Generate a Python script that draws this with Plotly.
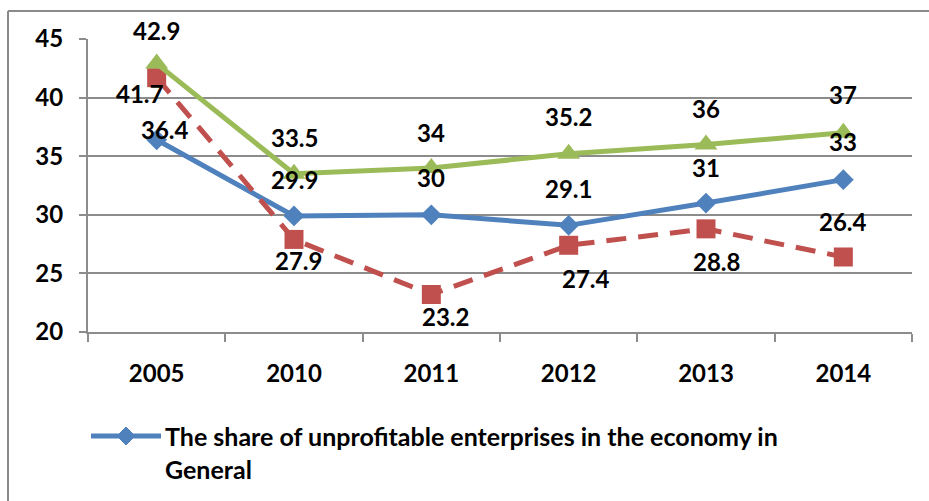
import plotly.graph_objects as go

# ---- data ----
years = ["2005", "2010", "2011", "2012", "2013", "2014"]
share_economy = [36.4, 29.9, 30, 29.1, 31, 33]
series_red = [41.7, 27.9, 23.2, 27.4, 28.8, 26.4]
series_green = [42.9, 33.5, 34, 35.2, 36, 37]
legend_text = "The share of unprofitable enterprises in the economy in<br>General"

# ---- styling ----
W, H = 929, 501
FONT = dict(family="Lato", size=24, color="black", weight="bold")
LEG_FONT = dict(family="Lato", size=25, color="black", weight="bold")
GRID = "#8c8c8c"
BLUE, RED, GREEN = "#4F81BD", "#C0504D", "#9BBB59"

# plot area in pixels
PL, PR, PT, PB = 88, 912, 39, 332

# per-label pixel offsets (dx, dy) of each data label from its point
shift_blue = [(8, 10), (0, 36), (0, 37), (0, 37), (0, 36), (0, 38)]
shift_red = [(-17, -16), (4, -21), (14, -22), (17, -33), (10, -33), (0, 35)]
shift_green = [(0, 33), (0, 36), (0, 35), (0, 37), (0, 36), (0, 38)]

fig = go.Figure()

def add_series(values, color, symbol, msize, dash):
    fig.add_trace(go.Scatter(
        x=years, y=values, mode="lines+markers",
        line=dict(color=color, width=5, dash=dash),
        marker=dict(symbol=symbol, size=msize, color=color),
        showlegend=False, hoverinfo="skip",
    ))

add_series(share_economy, BLUE, "diamond", 16, "solid")
add_series(series_red, RED, "square", 19, "20px,12px")
add_series(series_green, GREEN, "triangle-up", 20, "solid")

# data labels (x given as the category index on the category axis)
for values, shifts in ((share_economy, shift_blue), (series_red, shift_red),
                       (series_green, shift_green)):
    for i, (v, (dx, dy)) in enumerate(zip(values, shifts)):
        fig.add_annotation(x=i, y=v, text=f"{v:g}", showarrow=False,
                           xshift=dx, yshift=dy, font=FONT)

shapes = []
# chart-area frame (left and top edges; the rest runs off the page)
shapes.append(dict(type="line", xref="paper", yref="paper",
                   x0=8 / W, x1=8 / W, y0=1 - 11 / H, y1=-0.1,
                   line=dict(color="#8a8a8a", width=2)))
shapes.append(dict(type="line", xref="paper", yref="paper",
                   x0=8 / W, x1=1.05, y0=1 - 11 / H, y1=1 - 11 / H,
                   line=dict(color="#8a8a8a", width=2)))
# legend swatch: line with a diamond
LY = 436
shapes.append(dict(type="line", xref="paper", yref="paper",
                   x0=91 / W, x1=161 / W, y0=1 - LY / H, y1=1 - LY / H,
                   line=dict(color=BLUE, width=5)))
shapes.append(dict(type="path", xref="paper", yref="paper",
                   xsizemode="pixel", ysizemode="pixel",
                   xanchor=126 / W, yanchor=1 - LY / H,
                   path="M -9 0 L 0 9 L 9 0 L 0 -9 Z",
                   fillcolor=BLUE, line=dict(color=BLUE, width=1)))

fig.add_annotation(xref="paper", yref="paper", x=163 / W, y=1 - 452 / H,
                   xanchor="left", yanchor="middle", align="left",
                   text=legend_text, showarrow=False, font=LEG_FONT)

fig.update_layout(
    width=W, height=H,
    margin=dict(l=0, r=0, t=0, b=0, pad=0, autoexpand=False),
    paper_bgcolor="white", plot_bgcolor="white",
    shapes=shapes,
    xaxis=dict(domain=[PL / W, PR / W], type="category", tickson="boundaries",
               categoryorder="array", categoryarray=years, range=[-0.5, 5.5],
               ticks="outside", ticklen=8, tickcolor=GRID, tickwidth=2,
               showline=True, linecolor=GRID, linewidth=2, showgrid=False,
               automargin=False,
               tickfont=FONT, ticklabelstandoff=19, fixedrange=True),
    yaxis=dict(domain=[1 - PB / H, 1 - PT / H], range=[20, 45], dtick=5,
               ticks="outside", ticklen=7, tickcolor=GRID, tickwidth=2,
               showline=True, linecolor=GRID, linewidth=2,
               showgrid=True, gridcolor=GRID, gridwidth=2, zeroline=False,
               automargin=False,
               tickfont=FONT, ticklabelstandoff=11, fixedrange=True),
    font=FONT,
)

fig.write_html("out.html")
